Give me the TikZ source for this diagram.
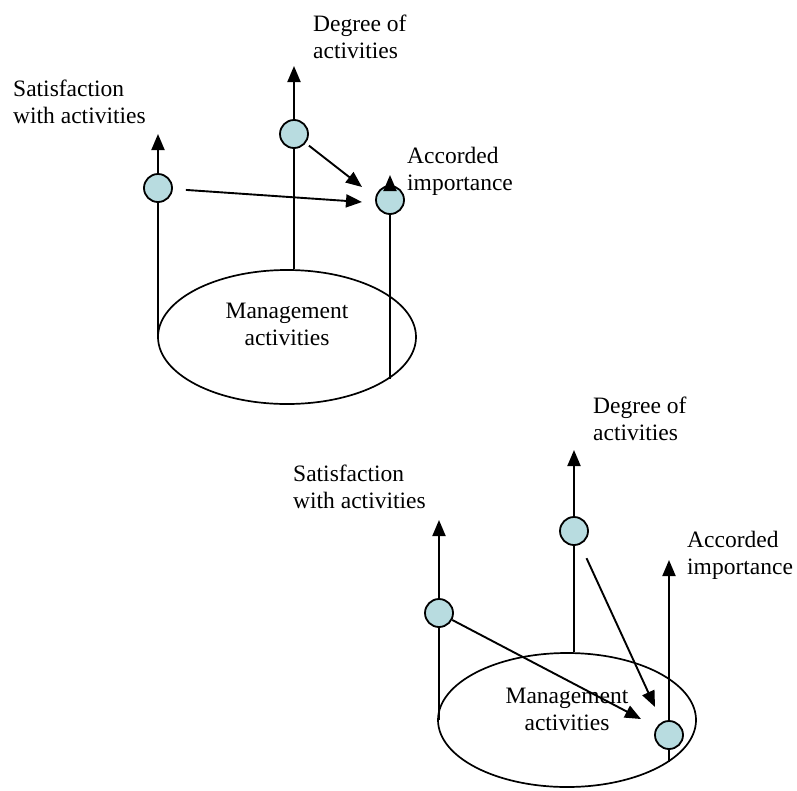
\documentclass[tikz,border=0pt]{standalone}
\usepackage{fontspec}
\setmainfont{Liberation Serif}
\usetikzlibrary{arrows.meta,shapes.geometric}
\definecolor{dotfill}{RGB}{184,220,224}
\begin{document}
\begin{tikzpicture}[x=1pt,y=-1pt,
  every node/.style={font=\fontsize{23.5}{26.5}\selectfont},
  link/.style={line width=1.9pt},
  arr/.style={link,-{Triangle[length=16pt,width=13pt]}},
  dot/.style={circle,draw,line width=1.8pt,fill=dotfill,minimum size=28pt,inner sep=0pt},
  ring/.style={ellipse,draw,line width=1.7pt,minimum width=258pt,minimum height=134pt,inner sep=0pt},
  lbl/.style={inner sep=0pt,align=left,anchor=base west},
  mid/.style={inner sep=0pt,align=center,anchor=base}]
\useasboundingbox (0,0) rectangle (797,790);

% ---------- upper model ----------
\node[ring] (E1) at (287,337) {};
\node[mid,yshift=-8pt] (M1) at (E1) {Management\\activities};
\node[dot] (C1) at (158,188) {};
\node[dot] (C2) at (294,134) {};
\node[dot] (C3) at (390,200) {};
\coordinate (t1) at (158,134);
\coordinate (t2) at (294,66);
\coordinate (t3) at (390,175);
\coordinate (b3) at (390,378.5);
\coordinate (h1) at (362,202);
\coordinate (h2) at (362,187);

\draw[link] (C1 |- E1.west) -- (C1);
\draw[arr] (C1) -- (t1);
\draw[link] (C2 |- E1.north) -- (C2);
\draw[arr] (C2) -- (t2);
\draw[link] (b3) -- (C3);
\draw[arr] (C3) -- (t3);
\draw[arr,shorten <=13pt] (C1) -- (h1);
\draw[arr,shorten <=4pt] (C2) -- (h2);

% multi-line labels sit on the baseline of their last line
\node[lbl] (L1) at (13,123) {Satisfaction\\with activities};
\node[lbl] (L2) at (313,58) {Degree of\\activities};
\node[lbl] (L3) at (407,190) {Accorded\\importance};

% ---------- lower model ----------
\node[ring] (E2) at (567,720) {};
\node[mid,yshift=-10pt] (M2) at (E2) {Management\\activities};
\node[dot] (C4) at (439,613) {};
\node[dot] (C5) at (574,531) {};
\node[dot] (C6) at (669,735) {};
\coordinate (t4) at (439,520);
\coordinate (t5) at (574,450);
\coordinate (t6) at (669,560);
\coordinate (b6) at (669,762);
\coordinate (h4) at (641,719);
\coordinate (h5) at (655,707);

\draw[link] (C4 |- E2.west) -- (C4);
\draw[arr] (C4) -- (t4);
\draw[link] (C5 |- E2.north) -- (C5);
\draw[arr] (C5) -- (t5);
\draw[link] (b6) -- (C6);
\draw[arr] (C6) -- (t6);
\draw[arr] (C4) -- (h4);
\draw[arr,shorten <=15pt] (C5) -- (h5);

\node[lbl] (L4) at (293,508) {Satisfaction\\with activities};
\node[lbl] (L5) at (593,440) {Degree of\\activities};
\node[lbl] (L6) at (687,574) {Accorded\\importance};
\end{tikzpicture}
\end{document}
